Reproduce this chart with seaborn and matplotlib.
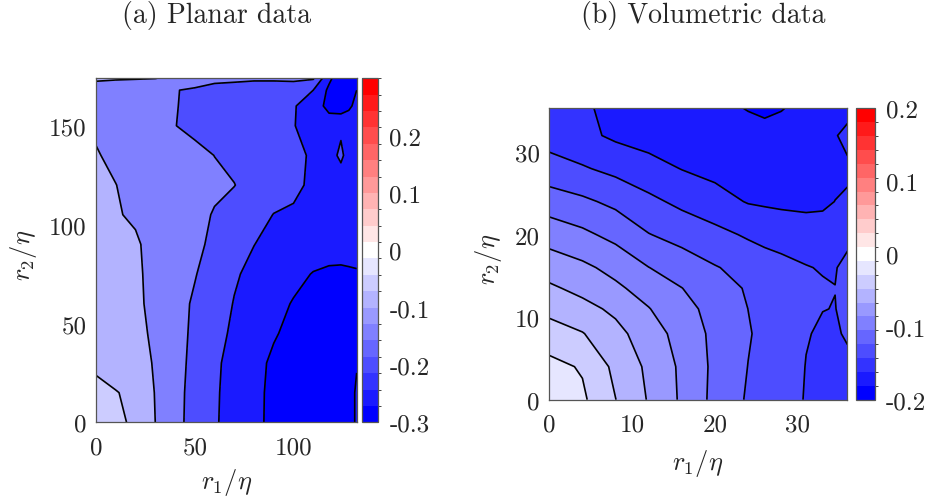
import numpy as np
import matplotlib
matplotlib.use("Agg")
import matplotlib.pyplot as plt
import seaborn as sns
from matplotlib.colors import ListedColormap, BoundaryNorm
import matplotlib.cm as mcm

sns.set_style("ticks")
plt.rcParams["font.family"] = ["cmr10", "DejaVu Serif"]
plt.rcParams["mathtext.fontset"] = "cm"
plt.rcParams["axes.unicode_minus"] = False
plt.rcParams["axes.formatter.use_mathtext"] = True
plt.rcParams["contour.negative_linestyle"] = "solid"

# ---------------- data: panel (a) planar ----------------
a_r1 = [0, 10, 20, 30, 40, 50, 60, 70, 80, 90, 100, 110, 118, 124, 128, 132]
a_r2 = [0, 15, 30, 45, 60, 75, 90, 105, 120, 135, 150, 160, 168, 174]
a_vals = [
    [-0.035, -0.044, -0.055, -0.100, -0.136, -0.167, -0.195, -0.218, -0.240, -0.260, -0.275, -0.285, -0.290, -0.290, -0.280, -0.240],
    [-0.043, -0.048, -0.060, -0.102, -0.135, -0.166, -0.194, -0.217, -0.239, -0.260, -0.275, -0.285, -0.290, -0.290, -0.280, -0.240],
    [-0.055, -0.0705, -0.086, -0.103, -0.133, -0.163, -0.192, -0.215, -0.236, -0.258, -0.272, -0.283, -0.290, -0.290, -0.280, -0.255],
    [-0.060, -0.0747, -0.089, -0.107, -0.133, -0.159, -0.185, -0.208, -0.227, -0.246, -0.262, -0.275, -0.282, -0.285, -0.280, -0.270],
    [-0.066, -0.079, -0.0925, -0.110, -0.133, -0.156, -0.179, -0.202, -0.219, -0.236, -0.253, -0.265, -0.272, -0.275, -0.275, -0.270],
    [-0.0725, -0.0835, -0.0945, -0.1095, -0.1285, -0.1475, -0.171, -0.195, -0.211, -0.225, -0.238, -0.252, -0.257, -0.258, -0.256, -0.254],
    [-0.079, -0.0878, -0.0965, -0.1094, -0.125, -0.141, -0.1586, -0.179, -0.1994, -0.212, -0.222, -0.228, -0.232, -0.232, -0.232, -0.232],
    [-0.0855, -0.098, -0.1036, -0.1157, -0.1277, -0.1398, -0.1524, -0.168, -0.184, -0.201, -0.205, -0.215, -0.222, -0.225, -0.228, -0.230],
    [-0.092, -0.0996, -0.1084, -0.1173, -0.126, -0.135, -0.1438, -0.149, -0.1667, -0.1795, -0.192, -0.207, -0.215, -0.215, -0.220, -0.225],
    [-0.098, -0.106, -0.115, -0.124, -0.1327, -0.1415, -0.1503, -0.1609, -0.1715, -0.182, -0.1926, -0.204, -0.210, -0.195, -0.210, -0.215],
    [-0.104, -0.1154, -0.127, -0.138, -0.1494, -0.1578, -0.166, -0.1743, -0.1825, -0.1908, -0.199, -0.210, -0.215, -0.205, -0.215, -0.220],
    [-0.110, -0.1197, -0.1293, -0.139, -0.1486, -0.157, -0.165, -0.1732, -0.1813, -0.1894, -0.1976, -0.215, -0.270, -0.280, -0.260, -0.235],
    [-0.115, -0.124, -0.132, -0.140, -0.1485, -0.155, -0.163, -0.170, -0.178, -0.185, -0.191, -0.200, -0.260, -0.280, -0.270, -0.250],
    [-0.095, -0.096, -0.097, -0.099, -0.110, -0.130, -0.140, -0.140, -0.142, -0.140, -0.135, -0.145, -0.240, -0.280, -0.280, -0.260],
]
a_levels = [-0.3, -0.25, -0.2, -0.15, -0.1, -0.05, 0.0]
a_clim = (-0.3, 0.3)
a_xticks = [0, 50, 100]
a_yticks = [0, 50, 100, 150]
a_cticks = [-0.3, -0.2, -0.1, 0, 0.1, 0.2]
a_clabels = ["-0.3", "-0.2", "-0.1", "0", "0.1", "0.2"]

# ---------------- data: panel (b) volumetric ----------------
b_r1 = [0, 4, 8, 12, 16, 20, 24, 26, 28, 31, 33, 34.5, 36]
b_r2 = [0, 4, 8, 11, 13.5, 16, 20, 24, 28, 32, 35.3]
b_vals = [
    [-0.002, -0.0167, -0.0397, -0.0616, -0.083, -0.1055, -0.1222, -0.1276, -0.133, -0.141, -0.145, -0.147, -0.147],
    [-0.0143, -0.0218, -0.0448, -0.064, -0.0836, -0.1044, -0.1203, -0.126, -0.1318, -0.1404, -0.1445, -0.1455, -0.143],
    [-0.031, -0.039, -0.0541, -0.0703, -0.0876, -0.1048, -0.1186, -0.1245, -0.1301, -0.1393, -0.1415, -0.1415, -0.1385],
    [-0.0455, -0.0538, -0.064, -0.0792, -0.0932, -0.1068, -0.1201, -0.1244, -0.1286, -0.1351, -0.1398, -0.1402, -0.1375],
    [-0.0568, -0.0654, -0.0764, -0.0879, -0.0997, -0.1115, -0.1219, -0.1255, -0.129, -0.1343, -0.1379, -0.1399, -0.137],
    [-0.0688, -0.0759, -0.0859, -0.0997, -0.1093, -0.1188, -0.1263, -0.1299, -0.1335, -0.1389, -0.1415, -0.1405, -0.1375],
    [-0.0885, -0.0958, -0.1058, -0.1193, -0.127, -0.1343, -0.1425, -0.1465, -0.149, -0.152, -0.1525, -0.152, -0.1425],
    [-0.110, -0.1163, -0.1246, -0.1354, -0.1446, -0.1527, -0.1612, -0.1625, -0.1635, -0.164, -0.163, -0.1598, -0.158],
    [-0.1321, -0.1381, -0.1453, -0.1529, -0.1606, -0.1655, -0.169, -0.1705, -0.171, -0.1695, -0.167, -0.164, -0.1625],
    [-0.148, -0.155, -0.1635, -0.168, -0.171, -0.174, -0.176, -0.1765, -0.176, -0.174, -0.166, -0.161, -0.156],
    [-0.151, -0.1568, -0.166, -0.171, -0.174, -0.177, -0.1805, -0.182, -0.1805, -0.177, -0.172, -0.168, -0.165],
]
b_levels = [-0.2, -0.18, -0.16, -0.14, -0.12, -0.1, -0.08, -0.06, -0.04, -0.02, 0.0]
b_clim = (-0.2, 0.2)
b_xticks = [0, 10, 20, 30]
b_yticks = [0, 10, 20, 30]
b_cticks = [-0.2, -0.1, 0, 0.1, 0.2]
b_clabels = ["-0.2", "-0.1", "0", "0.1", "0.2"]

# ---------------- colormap: 21-step blue-white-red ----------------
NC = 21
cols = []
for i in range(NC):
    if i < 10:
        t = i / 10
        cols.append((t, t, 1.0))
    elif i == 10:
        cols.append((1.0, 1.0, 1.0))
    else:
        t = (20 - i) / 10
        cols.append((1.0, t, t))
cmap = ListedColormap(cols)


def fill_colors(levels, clim):
    lo, hi = clim
    out = []
    for L in levels[:-1]:
        idx = int(np.floor((L - lo) / (hi - lo) * NC + 1e-9))
        idx = min(max(idx, 0), NC - 1)
        out.append(cols[idx])
    return out


W, H = 936, 502
fig = plt.figure(figsize=(W / 100, H / 100), dpi=100)


def rect(x0, y0, x1, y1):
    return [x0 / W, (H - y1) / H, (x1 - x0) / W, (y1 - y0) / H]


axA = fig.add_axes(rect(96, 79.3, 356.7, 423.3))
cA = fig.add_axes(rect(361.7, 79.3, 378.3, 423.3))
axB = fig.add_axes(rect(549.3, 109.3, 846.7, 400.7))
cB = fig.add_axes(rect(855.7, 109.3, 875.0, 400.7))

spine_col = "#555555"


def draw(ax, cax, r1, r2, vals, levels, clim, xlim, ylim, xt, yt, ct, cl,
         xl_pos, yl_pos):
    Z = np.array(vals)
    ax.contourf(r1, r2, Z, levels=levels, colors=fill_colors(levels, clim))
    ax.contour(r1, r2, Z, levels=levels[1:-1], colors="k", linewidths=1.2,
               linestyles="solid")
    ax.set_xlim(*xlim)
    ax.set_ylim(*ylim)
    ax.set_xticks(xt)
    ax.set_xticklabels([str(v) for v in xt])
    ax.set_yticks(yt)
    ax.set_yticklabels([str(v) for v in yt])
    ax.tick_params(direction="in", top=True, right=True, length=4, width=0.7,
                   color="#333333", labelsize=18)
    ax.tick_params(axis="x", pad=10)
    ax.tick_params(axis="y", pad=7)
    for s in ax.spines.values():
        s.set_edgecolor(spine_col)
        s.set_linewidth(0.9)
    ax.set_xlabel(r"$r_1/\eta$", fontsize=19, va="center")
    ax.set_ylabel(r"$r_2/\eta$", fontsize=19, va="center")
    ax.xaxis.set_label_coords(0.5, xl_pos)
    ax.yaxis.set_label_coords(yl_pos[0], yl_pos[1])
    norm = BoundaryNorm(np.linspace(clim[0], clim[1], NC + 1), NC)
    sm = mcm.ScalarMappable(norm=norm, cmap=cmap)
    cb = fig.colorbar(sm, cax=cax, ticks=ct)
    cb.set_ticklabels(cl)
    cax.tick_params(direction="in", length=4, width=0.7, color="#333333",
                    labelsize=18, pad=8)
    cb.outline.set_edgecolor(spine_col)
    cb.outline.set_linewidth(0.9)


draw(axA, cA, a_r1, a_r2, a_vals, a_levels, a_clim, (0, 132), (0, 174),
     a_xticks, a_yticks, a_cticks, a_clabels, -0.1735, (-0.28, 0.489))
draw(axB, cB, b_r1, b_r2, b_vals, b_levels, b_clim, (0, 35.9), (0, 35.3),
     b_xticks, b_yticks, b_cticks, b_clabels, -0.217, (-0.203, 0.486))

fig.text(216.7 / W, 1 - 16 / H, "(a) Planar data", ha="center", va="center", fontsize=20)
fig.text(703 / W, 1 - 16 / H, "(b) Volumetric data", ha="center", va="center", fontsize=20)

fig.savefig("out.png", dpi=100)
